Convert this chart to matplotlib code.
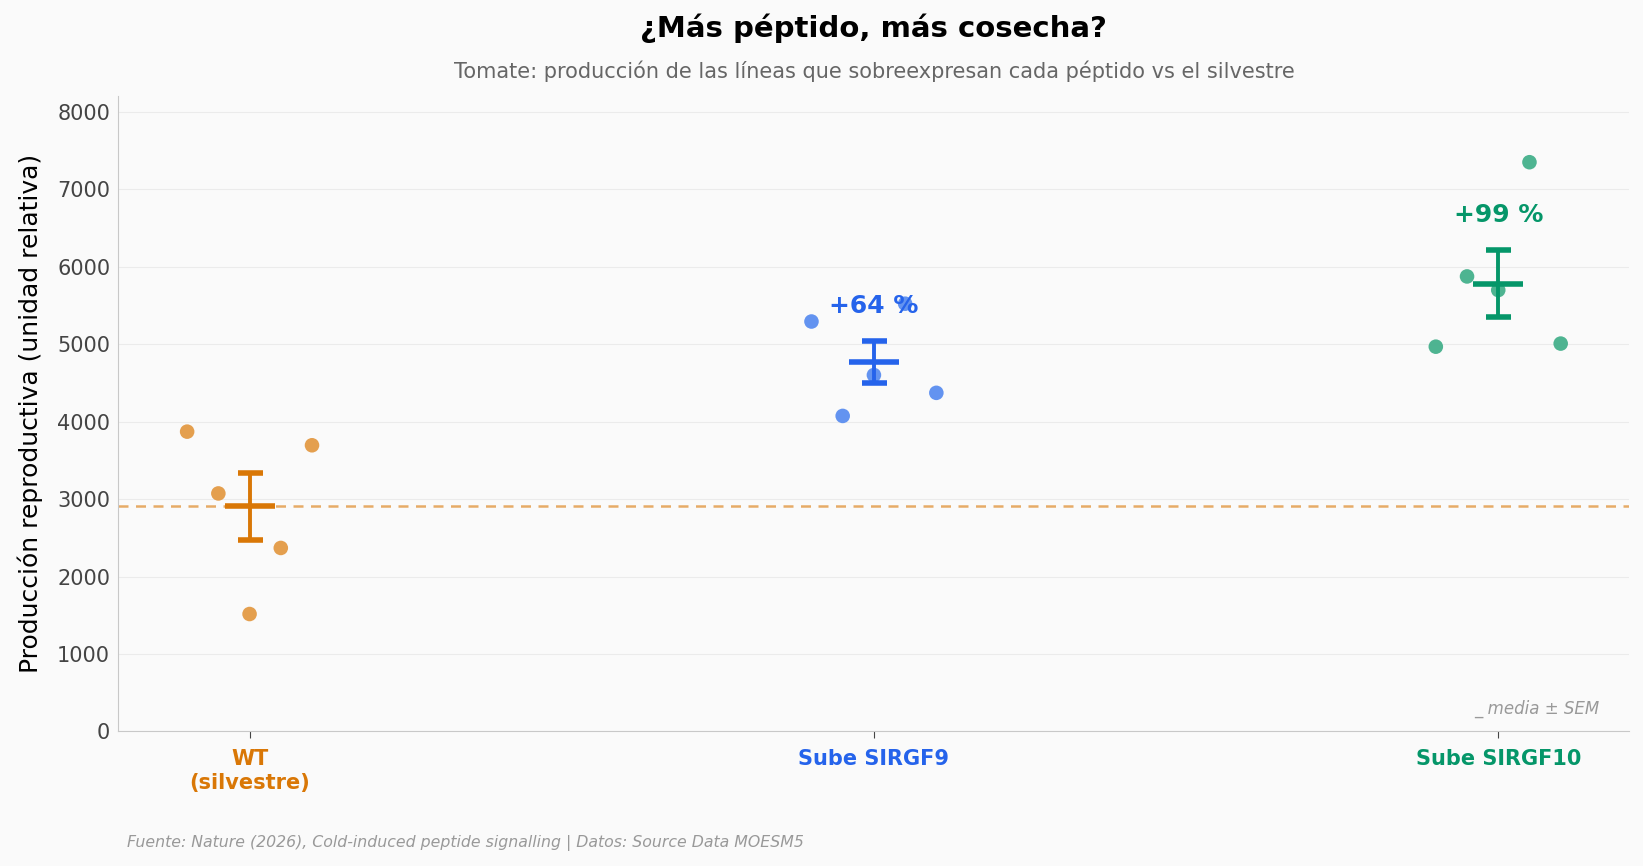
import numpy as np
import matplotlib

matplotlib.use("Agg")
import matplotlib.pyplot as plt

BG = "#fafafa"
GRID_COLOR = "#ebebeb"
SPINE_COLOR = "#c8c8c8"
MUTED = "#999999"

labels = ["WT\n(silvestre)", "Sube SIRGF9", "Sube SIRGF10"]
colors = ["#d97706", "#2563eb", "#059669"]
point_colors = ["#e39a45", "#5b8ef0", "#45b08c"]

wt = [3871, 3073, 1516, 2369, 3695]
rgf9 = [5293, 4074, 4602, 5523, 4372]
rgf10 = [4968, 5875, 5699, 7350, 5008]
groups = [wt, rgf9, rgf10]
jitter = [-0.1, -0.05, 0.0, 0.05, 0.1]

fig = plt.figure(figsize=(16.43, 8.66), dpi=100, facecolor=BG)
ax = fig.add_axes([0.0721, 0.1554, 0.9196, 0.7333], facecolor=BG)

wt_mean = np.mean(wt)
ax.axhline(wt_mean, color=colors[0], ls=(0, (4, 3)), lw=1.8, alpha=0.6, zorder=1)

for i, (vals, c, pc) in enumerate(zip(groups, colors, point_colors)):
    vals = np.asarray(vals, dtype=float)
    mean = vals.mean()
    sem = vals.std(ddof=1) / np.sqrt(len(vals))
    ax.scatter(i + np.asarray(jitter), vals, s=110, color=pc, edgecolors="none",
               alpha=0.95, zorder=3)
    ax.errorbar(i, mean, yerr=sem, fmt="none", ecolor=c, elinewidth=2.8,
                capsize=9, capthick=4, zorder=4)
    ax.plot([i - 0.04, i + 0.04], [mean, mean], color=c, lw=4, zorder=4,
            solid_capstyle="butt")
    if i > 0:
        pct = (mean / wt_mean - 1) * 100
        ax.text(i, mean + sem + 450, f"+{pct:.0f} %", color=c, fontsize=18,
                fontweight="bold", ha="center", va="center", zorder=5)

ax.set_xlim(-0.21, 2.21)
ax.set_ylim(0, 8200)
ax.set_xticks(range(len(labels)))
ax.set_xticklabels(labels, fontsize=15, fontweight="bold")
for tl, c in zip(ax.get_xticklabels(), colors):
    tl.set_color(c)
ax.set_yticks(np.arange(0, 8001, 1000))
ax.tick_params(axis="y", labelsize=15, colors="#444444", length=0, pad=6)
ax.tick_params(axis="x", length=5, color="#444444", pad=8)
ax.set_ylabel("Producción reproductiva (unidad relativa)", fontsize=18, labelpad=10)
ax.grid(axis="y", color=GRID_COLOR, lw=0.8)
ax.set_axisbelow(True)
for side in ["top", "right"]:
    ax.spines[side].set_visible(False)
for side in ["left", "bottom"]:
    ax.spines[side].set_color(SPINE_COLOR)

ax.text(0.98, 0.035, "_ media ± SEM", transform=ax.transAxes, ha="right",
        va="center", fontsize=12, style="italic", color=MUTED)

ax_center = 0.0721 + 0.9196 / 2
fig.text(ax_center, 0.967, "¿Más péptido, más cosecha?", ha="center", va="center",
         fontsize=21, fontweight="bold")
fig.text(ax_center, 0.918, "Tomate: producción de las líneas que sobreexpresan cada péptido vs el silvestre",
         ha="center", va="center", fontsize=15, color="#666666")
fig.text(0.0775, 0.027, "Fuente: Nature (2026), Cold-induced peptide signalling | Datos: Source Data MOESM5",
         ha="left", va="center", fontsize=11.3, style="italic", color=MUTED)

fig.savefig("out.png", dpi=100, facecolor=BG)
